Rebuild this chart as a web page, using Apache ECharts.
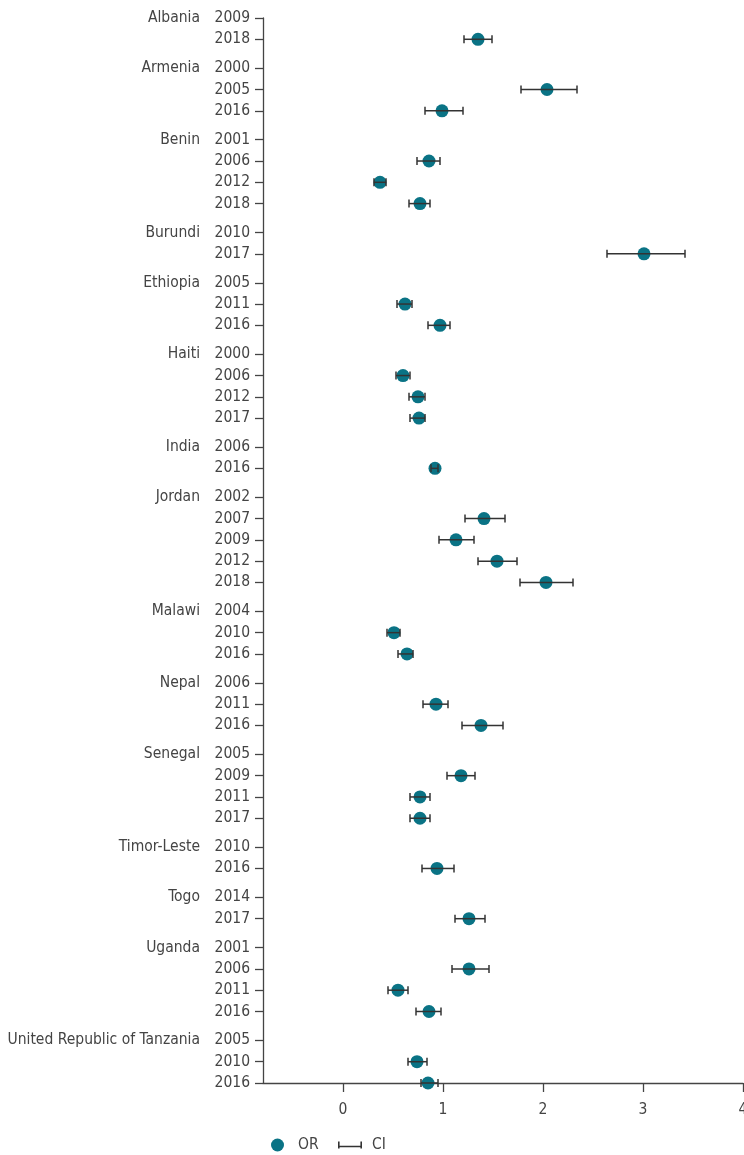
<!DOCTYPE html>
<html>
<head>
<meta charset="utf-8">
<script src="https://cdn.jsdelivr.net/npm/echarts@6/dist/echarts.min.js"></script>
<style>
  html, body { margin: 0; padding: 0; background: #fff; }
  #chart { width: 744px; height: 1155px; }
</style>
</head>
<body>
<div id="chart"></div>
<script>
// Survey rows grouped by country; null = no estimate for that survey year
const countries = ['Albania', 'Armenia', 'Benin', 'Burundi', 'Ethiopia', 'Haiti', 'India', 'Jordan',
  'Malawi', 'Nepal', 'Senegal', 'Timor-Leste', 'Togo', 'Uganda', 'United Republic of Tanzania'];
const years = [
  ['2009', '2018'],
  ['2000', '2005', '2016'],
  ['2001', '2006', '2012', '2018'],
  ['2010', '2017'],
  ['2005', '2011', '2016'],
  ['2000', '2006', '2012', '2017'],
  ['2006', '2016'],
  ['2002', '2007', '2009', '2012', '2018'],
  ['2004', '2010', '2016'],
  ['2006', '2011', '2016'],
  ['2005', '2009', '2011', '2017'],
  ['2010', '2016'],
  ['2014', '2017'],
  ['2001', '2006', '2011', '2016'],
  ['2005', '2010', '2016']
];
const oddsRatio = [
  [null, 1.35],
  [null, 2.04, 0.99],
  [null, 0.86, 0.37, 0.77],
  [null, 3.01],
  [null, 0.62, 0.97],
  [null, 0.60, 0.75, 0.76],
  [null, 0.92],
  [null, 1.41, 1.13, 1.54, 2.03],
  [null, 0.51, 0.64],
  [null, 0.93, 1.38],
  [null, 1.18, 0.77, 0.77],
  [null, 0.94],
  [null, 1.26],
  [null, 1.26, 0.55, 0.86],
  [null, 0.74, 0.85]
];
const ciLow = [
  [null, 1.21],
  [null, 1.78, 0.82],
  [null, 0.74, 0.31, 0.66],
  [null, 2.64],
  [null, 0.54, 0.85],
  [null, 0.53, 0.66, 0.67],
  [null, 0.88],
  [null, 1.22, 0.96, 1.35, 1.77],
  [null, 0.44, 0.55],
  [null, 0.80, 1.19],
  [null, 1.04, 0.67, 0.67],
  [null, 0.79],
  [null, 1.12],
  [null, 1.09, 0.45, 0.73],
  [null, 0.65, 0.78]
];
const ciHigh = [
  [null, 1.49],
  [null, 2.34, 1.20],
  [null, 0.97, 0.43, 0.87],
  [null, 3.42],
  [null, 0.69, 1.07],
  [null, 0.67, 0.82, 0.82],
  [null, 0.95],
  [null, 1.62, 1.31, 1.74, 2.30],
  [null, 0.57, 0.70],
  [null, 1.05, 1.60],
  [null, 1.32, 0.87, 0.87],
  [null, 1.11],
  [null, 1.42],
  [null, 1.46, 0.65, 0.98],
  [null, 0.84, 0.95]
];
const xTicks = [0, 1, 2, 3, 4];

// Vertical layout: one unit per survey row plus a small gap between countries
const GROUP_GAP = 0.36;
const rowPos = [], yearLabel = {}, countryLabel = {}, groupStarts = [];
const orData = [], ciData = [];
let pos = 0;
const key = v => Math.round(v * 1000);
countries.forEach((c, gi) => {
  if (gi > 0) pos += GROUP_GAP;
  groupStarts.push(pos);
  countryLabel[key(pos)] = c;
  years[gi].forEach((yr, ri) => {
    rowPos.push(pos);
    yearLabel[key(pos)] = yr;
    const or = oddsRatio[gi][ri];
    if (or !== null) {
      orData.push([or, pos]);
      ciData.push([ciLow[gi][ri], ciHigh[gi][ri], pos]);
    }
    pos += 1;
  });
});
const yMax = rowPos[rowPos.length - 1];

const FONT = '"DejaVu Sans Condensed", "Liberation Sans", sans-serif';
const FS = 15.5;
const TEXT = '#444';
const AXIS = '#444';
const TEAL = '#0a7385';

const chart = echarts.init(document.getElementById('chart'), null, { renderer: 'canvas' });

chart.setOption({
  animation: false,
  textStyle: { fontFamily: FONT },
  grid: { left: 263, right: 1, top: 18, bottom: 72, containLabel: false, outerBoundsMode: 'none' },
  legend: [
    {
      data: ['OR'], left: 271, top: 1137, padding: 0, icon: 'circle',
      itemWidth: 13, itemHeight: 13,
      textStyle: { fontFamily: FONT, fontSize: FS, color: TEXT, padding: [0, 0, 0, 9] }
    },
    {
      data: ['CI'], left: 338, top: 1137, padding: 0,
      icon: 'path://M0,0h1.6v7h-1.6z M0,4.2h24v1.6h-24z M22.4,0h1.6v7h-1.6z',
      itemWidth: 24, itemHeight: 7,
      textStyle: { fontFamily: FONT, fontSize: FS, color: TEXT, padding: [0, 0, 0, 5] }
    }
  ],
  xAxis: {
    type: 'value', min: -0.8, max: 4, position: 'bottom',
    axisLine: { show: true, onZero: false, lineStyle: { color: AXIS, width: 1.3 } },
    axisTick: { show: true, length: 9, customValues: xTicks, lineStyle: { color: AXIS, width: 1.3 } },
    axisLabel: { customValues: xTicks, margin: 19, fontSize: FS, color: TEXT, fontFamily: FONT },
    splitLine: { show: false }
  },
  yAxis: [
    {
      type: 'value', inverse: true, min: 0, max: yMax, position: 'left',
      axisLine: { show: true, onZero: false, lineStyle: { color: AXIS, width: 1.3 } },
      axisTick: { show: true, length: 8, customValues: rowPos, lineStyle: { color: AXIS, width: 1.3 } },
      axisLabel: {
        customValues: rowPos, margin: 13, fontSize: FS, color: TEXT, fontFamily: FONT,
        formatter: v => yearLabel[key(v)] || ''
      },
      splitLine: { show: false }
    },
    {
      type: 'value', inverse: true, min: 0, max: yMax, position: 'left',
      axisLine: { show: false, onZero: false }, axisTick: { show: false },
      axisLabel: {
        customValues: groupStarts, margin: 63, fontSize: FS, color: TEXT, fontFamily: FONT,
        formatter: v => countryLabel[key(v)] || ''
      },
      splitLine: { show: false }
    }
  ],
  series: [
    {
      name: 'OR', type: 'scatter', yAxisIndex: 0,
      symbol: 'circle', symbolSize: 13,
      itemStyle: { color: TEAL, opacity: 1 },
      data: orData, z: 2
    },
    {
      name: 'CI', type: 'custom', yAxisIndex: 0,
      itemStyle: { color: '#333' },
      encode: { x: [0, 1], y: 2 },
      renderItem: (params, api) => {
        const lo = api.coord([api.value(0), api.value(2)]);
        const hi = api.coord([api.value(1), api.value(2)]);
        const h = 4;
        const style = { stroke: '#333', lineWidth: 1.5, fill: null };
        return {
          type: 'group',
          children: [
            { type: 'line', shape: { x1: lo[0], y1: lo[1], x2: hi[0], y2: hi[1] }, style },
            { type: 'line', shape: { x1: lo[0], y1: lo[1] - h, x2: lo[0], y2: lo[1] + h }, style },
            { type: 'line', shape: { x1: hi[0], y1: hi[1] - h, x2: hi[0], y2: hi[1] + h }, style }
          ]
        };
      },
      data: ciData, z: 3
    }
  ]
});
</script>
</body>
</html>
